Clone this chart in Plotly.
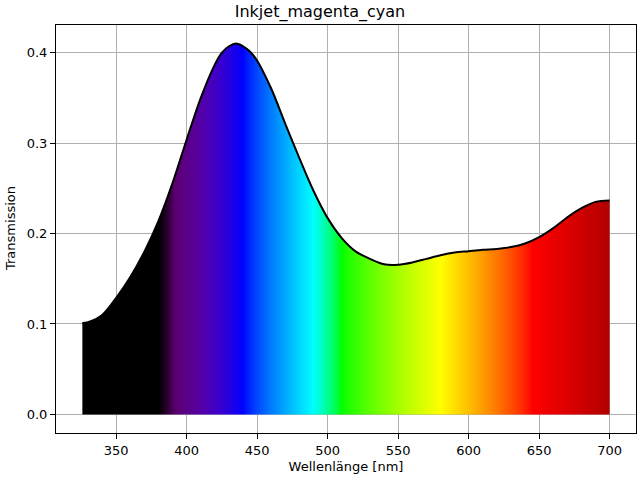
import plotly.graph_objects as go

# Data
wavelength = [326, 330, 340, 350, 360, 370, 380, 390, 400, 410, 420, 425, 430, 435, 440,
              445, 450, 460, 470, 480, 490, 500, 510, 520, 530, 540, 550, 560, 570, 580,
              590, 600, 610, 620, 630, 640, 650, 660, 670, 680, 690, 700]
transmission = [0.101, 0.102, 0.110, 0.129, 0.152, 0.180, 0.214, 0.256, 0.304, 0.350,
                0.387, 0.400, 0.407, 0.410, 0.407, 0.401, 0.391, 0.360, 0.321, 0.283,
                0.247, 0.217, 0.195, 0.180, 0.172, 0.166, 0.1655, 0.168, 0.172, 0.176,
                0.179, 0.1805, 0.182, 0.183, 0.185, 0.189, 0.196, 0.206, 0.218, 0.228,
                0.235, 0.2365]
x_ticks = [350, 400, 450, 500, 550, 600, 650, 700]
y_ticks = [0.0, 0.1, 0.2, 0.3, 0.4]
title = "Inkjet_magenta_cyan"
x_label = "Wellenlänge [nm]"
y_label = "Transmission"


def wl_rgb(w, gamma=0.8):
    """Spectral colour of a wavelength (style only)."""
    if w < 380:
        return (0, 0, 0)
    if w <= 440:
        att = 0.3 + 0.7 * (w - 380) / 60
        r = ((440 - w) / 60) * att
        g = 0.0
        b = att
        ramp = min(1.0, (w - 380) / 12)
        r, b = r * ramp, b * ramp
    elif w <= 490:
        r, g, b = 0.0, ((w - 440) / 50) ** gamma, 1.0
    elif w <= 510:
        r, g, b = 0.0, 1.0, ((510 - w) / 20) ** gamma
    elif w <= 580:
        r, g, b = ((w - 510) / 70) ** gamma, 1.0, 0.0
    elif w <= 645:
        r, g, b = 1.0, ((645 - w) / 65) ** gamma, 0.0
    else:
        att = 0.3 + 0.7 * (750 - w) / 105
        r, g, b = att ** gamma, 0.0, 0.0
    return (round(r * 255), round(g * 255), round(b * 255))


w0, w1 = wavelength[0], wavelength[-1]
colorscale = []
n = int(w1 - w0)
for i in range(n + 1):
    w = w0 + i
    c = wl_rgb(w)
    colorscale.append([i / n, f"rgb({c[0]},{c[1]},{c[2]})"])

fig = go.Figure()
fig.add_trace(go.Scatter(
    x=wavelength, y=transmission, mode="lines",
    line=dict(color="black", width=2, shape="spline", smoothing=0.9),
    fill="tozeroy",
    fillgradient=dict(type="horizontal", colorscale=colorscale, start=w0, stop=w1),
    showlegend=False, hoverinfo="skip",
))

font = "DejaVu Sans, Arial, sans-serif"
L, R, T, B = 56, 4, 25, 47
fig.update_layout(
    width=640, height=480,
    margin=dict(l=L, r=R, t=T, b=B, autoexpand=False),
    paper_bgcolor="white", plot_bgcolor="white",
    font=dict(family=font, size=13, color="black"),
    title=dict(text=title, x=0.5, xanchor="center", y=1 - 11 / 480, yanchor="middle",
               font=dict(size=16, family=font)),
    annotations=[dict(text=y_label, textangle=-90, xref="paper", yref="paper",
                      x=-(L - 10) / (640 - L - R), y=0.5, xanchor="center",
                      yanchor="middle", showarrow=False, font=dict(size=13))],
)
axis_common = dict(
    showline=True, linecolor="black", linewidth=1, mirror=True,
    ticks="outside", ticklen=5, tickwidth=1, tickcolor="black",
    showgrid=True, gridcolor="#b0b0b0", gridwidth=1, zeroline=False,
    tickfont=dict(size=13), automargin=False,
)
span_x = w1 - w0
fig.update_xaxes(range=[w0 - 0.05 * span_x, w1 + 0.05 * span_x],
                 tickvals=x_ticks, title=dict(text=x_label, standoff=5, font=dict(size=13)),
                 **axis_common)
ymax = max(transmission)
fig.update_yaxes(range=[-0.05 * ymax, ymax * 1.05],
                 tickvals=y_ticks, tickformat=".1f", **axis_common)

fig.write_html("out.html", config={"displayModeBar": False},
               post_script="document.body.style.margin='0';")
